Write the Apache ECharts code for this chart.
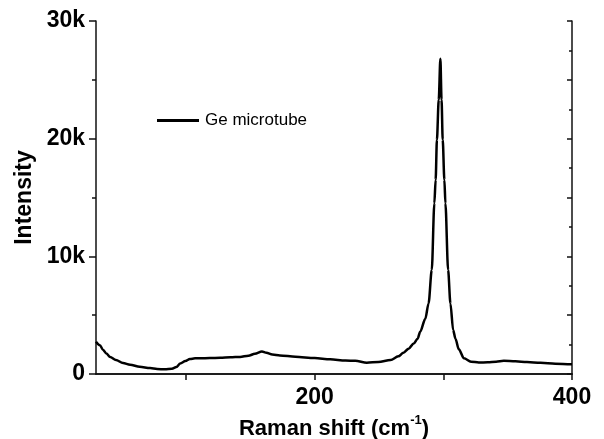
<!DOCTYPE html>
<html>
<head>
<meta charset="utf-8">
<script src="https://cdn.jsdelivr.net/npm/echarts@6/dist/echarts.min.js"></script>
<style>
html,body{margin:0;padding:0;background:#fff;}
#chart{width:604px;height:439px;}
</style>
</head>
<body>
<div id="chart"></div>
<script>
const ramanShift = [30,33,35.5,38,41,45.5,51,56.5,64,72,77.5,83.5,89,92.5,95.5,99.5,103,107,111,118.5,126.5,134.5,142,148.5,153.5,159,162.5,167,173,185,200,212,224,231.5,240.5,249.5,259,265,269,273,277,280,282,286,288.5,291,293,294,295,296.4,297.7,298.6,299.5,300.8,301.6,303.7,305.5,307.6,309.4,312,316,321.5,327.5,334.5,341,347,356,365,375.5,387,399,400];
const intensity = [2750,2450,2050,1750,1450,1200,930,780,620,500,420,400,450,600,900,1100,1270,1330,1330,1360,1380,1420,1450,1550,1720,1920,1800,1660,1580,1470,1350,1250,1140,1120,960,1020,1190,1500,1810,2150,2600,3000,3600,4700,6000,8840,14500,16500,19900,23300,26800,23300,19900,16500,14500,8840,6000,3740,3000,2100,1330,1050,980,990,1050,1130,1080,1020,950,880,820,820];
const seriesName = 'Ge microtube';
const xLabelValues = [200, 400];
const xTickValues = [100, 200, 300, 400];

const FONT = '"Liberation Sans", Arial, sans-serif';
const data = ramanShift.map((x, i) => [x, intensity[i]]);
const axisColor = '#111';

const chart = echarts.init(document.getElementById('chart'));
chart.setOption({
  animation: false,
  backgroundColor: '#fff',
  grid: {left: 96, right: 32, top: 21, bottom: 65, outerBoundsMode: 'none', containLabel: false},
  legend: {
    left: 152, top: 107,
    itemWidth: 42, itemHeight: 3, itemGap: 6,
    textStyle: {fontFamily: FONT, fontSize: 17, color: '#000', padding: [0, 0, 0, 1]},
    data: [{name: seriesName, icon: 'rect', itemStyle: {color: '#000'}}]
  },
  xAxis: [{
    type: 'value', position: 'bottom', min: 30, max: 400,
    name: '{a|Raman shift (cm}{s|-1}{a|)}',
    nameLocation: 'middle', nameGap: 36,
    nameTextStyle: {
      rich: {
        a: {fontFamily: FONT, fontWeight: 'bold', fontSize: 22, color: '#000', lineHeight: 26, verticalAlign: 'bottom'},
        s: {fontFamily: FONT, fontWeight: 'bold', fontSize: 13, color: '#000', lineHeight: 26, verticalAlign: 'top', padding: [0, 0, 10, 0]}
      }
    },
    axisLine: {show: true, lineStyle: {color: axisColor, width: 1.5}},
    axisTick: {show: true, inside: false, length: 6, customValues: xTickValues, lineStyle: {color: axisColor, width: 1.5}},
    axisLabel: {customValues: xLabelValues, fontFamily: FONT, fontWeight: 'bold', fontSize: 23, color: '#000', margin: 12},
    splitLine: {show: false}
  }, {
    type: 'value', position: 'top', min: 30, max: 400,
    axisLine: {show: true, lineStyle: {color: axisColor, width: 1.5}},
    axisTick: {show: true, inside: true, length: 4, customValues: xTickValues, lineStyle: {color: axisColor, width: 1.5}},
    axisLabel: {show: false},
    splitLine: {show: false}
  }],
  yAxis: [{
    type: 'value', position: 'left', min: 0, max: 30000, interval: 10000,
    name: 'Intensity', nameLocation: 'middle', nameGap: 58, nameRotate: 90,
    nameTextStyle: {fontFamily: FONT, fontWeight: 'bold', fontSize: 23, color: '#000'},
    axisLine: {show: true, lineStyle: {color: axisColor, width: 1.5}},
    axisTick: {show: true, inside: false, length: 7, lineStyle: {color: axisColor, width: 1.5}},
    minorTick: {show: true, splitNumber: 2, length: 4, lineStyle: {color: axisColor, width: 1.5}},
    axisLabel: {
      fontFamily: FONT, fontWeight: 'bold', fontSize: 23, color: '#000', margin: 11,
      formatter: v => v === 0 ? '0' : (v / 1000) + 'k'
    },
    splitLine: {show: false}, minorSplitLine: {show: false}
  }, {
    type: 'value', position: 'right', min: 0, max: 30000, interval: 5000,
    axisLine: {show: true, lineStyle: {color: axisColor, width: 1.5}},
    axisTick: {show: true, inside: true, length: 5, lineStyle: {color: axisColor, width: 1.5}},
    minorTick: {show: true, splitNumber: 2, length: 3, lineStyle: {color: axisColor, width: 1.5}},
    axisLabel: {show: false},
    splitLine: {show: false}, minorSplitLine: {show: false}
  }],
  series: [{
    name: seriesName, type: 'line', data: data,
    xAxisIndex: 0, yAxisIndex: 0,
    symbol: 'none', showSymbol: false,
    smooth: 0.3, smoothMonotone: 'x',
    lineStyle: {color: '#000', width: 2.5},
    itemStyle: {color: '#000'}
  }]
});
</script>
</body>
</html>
